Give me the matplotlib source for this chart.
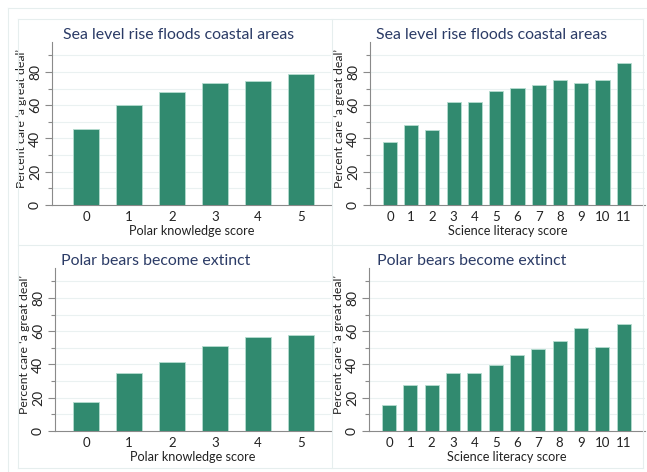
import matplotlib
matplotlib.use("Agg")
import matplotlib.pyplot as plt
from matplotlib.lines import Line2D

plt.rcParams['font.family'] = ['Lato', 'DejaVu Sans']

polar_scores = [0, 1, 2, 3, 4, 5]
science_scores = [0, 1, 2, 3, 4, 5, 6, 7, 8, 9, 10, 11]

sea_polar = [45.4, 60.4, 67.8, 73.6, 74.4, 78.6]
sea_science = [37.8, 47.8, 45.2, 62.2, 62.2, 68.6, 70.6, 72.0, 75.0, 73.2, 75.0, 85.6]
bears_polar = [17.4, 35.0, 41.6, 51.0, 56.6, 57.8]
bears_science = [15.4, 27.4, 27.8, 34.8, 35.0, 39.6, 45.8, 49.6, 54.2, 61.8, 50.8, 64.4]

title_sea = "Sea level rise floods coastal areas"
title_bears = "Polar bears become extinct"
xlabel_polar = "Polar knowledge score"
xlabel_science = "Science literacy score"
ylabel = "Percent care \u2018a great deal\u2019"

W, H = 647, 472
fig = plt.figure(figsize=(W / 100, H / 100), dpi=100)

BAR = '#318a6f'
EDGE = '#b5ddd0'
TITLE_C = '#2b3b66'
AX_C = '#8a8a8a'
GRID_C = '#eaf1f1'
FRAME_C = '#e6eeee'

def px_axes(x0, x1, y_top, y0):
    return fig.add_axes([x0 / W, 1 - y0 / H, (x1 - x0) / W, (y0 - y_top) / H])

def panel(x0, x1, y_top, y0, cats, vals, xlim, width, title, tx, xlabel):
    ax = px_axes(x0, x1, y_top, y0)
    ax.bar(cats, vals, width=width, color=BAR, edgecolor=EDGE, linewidth=0.6, zorder=3)
    ax.set_xlim(*xlim)
    ax.set_ylim(0, 98)
    ax.set_yticks([0, 20, 40, 60, 80])
    ax.set_yticks([10, 30, 50, 70, 90], minor=True)
    ax.set_xticks(cats)
    ax.set_xticklabels([str(c) for c in cats])
    for g in range(10, 100, 10):
        ax.axhline(g, color=GRID_C, linewidth=0.8, zorder=0)
    for s in ['top', 'right']:
        ax.spines[s].set_visible(False)
    for s in ['left', 'bottom']:
        ax.spines[s].set_color(AX_C)
        ax.spines[s].set_linewidth(0.8)
    ax.tick_params(axis='y', which='major', length=5, color=AX_C, width=0.8,
                   labelsize=10, labelcolor='#222222', pad=3)
    ax.tick_params(axis='y', which='minor', length=3, color=AX_C, width=0.8)
    for lab in ax.get_yticklabels():
        lab.set_rotation(90)
        lab.set_va('center')
    ax.tick_params(axis='x', length=0, labelsize=9.5, labelcolor='#222222', pad=4)
    ax.set_xlabel(xlabel, fontsize=9.1, color='#222222', labelpad=2)
    ax.set_ylabel(ylabel, fontsize=8.8, color='#222222')
    ax.yaxis.set_label_coords(-25 / (x1 - x0), 0.53)
    ax.set_facecolor('none')
    fig.text(tx / W, 1 - (y_top - 3) / H, title, fontsize=11.4, color=TITLE_C,
             ha='left', va='baseline')
    return ax

# faint frames
def hline(y, x0, x1):
    fig.add_artist(Line2D([x0 / W, x1 / W], [1 - y / H, 1 - y / H], color=FRAME_C, lw=0.8))
def vline(x, y0, y1):
    fig.add_artist(Line2D([x / W, x / W], [1 - y0 / H, 1 - y1 / H], color=FRAME_C, lw=0.8))

hline(8, 8, 647)
hline(19, 18, 643)
hline(245, 18, 643)
hline(468, 18, 643)
vline(8, 8, 472)
vline(18, 19, 468)
vline(332, 19, 468)
vline(643, 19, 468)

panel(52, 331, 42, 205, polar_scores, sea_polar, (-0.79, 5.70), 0.62, title_sea, 63, xlabel_polar)
panel(370, 645, 42, 205, science_scores, sea_science, (-0.94, 12.0), 0.66, title_sea, 376, xlabel_science)
panel(55, 331, 268, 431, polar_scores, bears_polar, (-0.72, 5.70), 0.62, title_bears, 61, xlabel_polar)
panel(369, 645, 268, 431, science_scores, bears_science, (-0.94, 12.0), 0.66, title_bears, 377, xlabel_science)

fig.savefig("out.png", dpi=100, facecolor='white')
